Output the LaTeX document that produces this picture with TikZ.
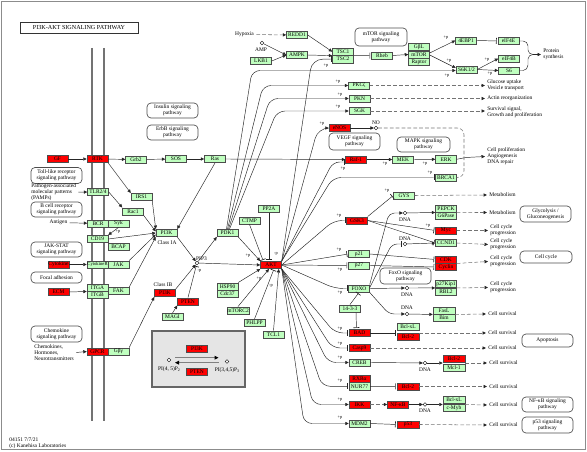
\documentclass[tikz,border=0pt]{standalone}
\usepackage{fontspec}
\setmainfont{Liberation Serif}
\usetikzlibrary{arrows.meta,calc}
\definecolor{kgreen}{HTML}{BFFFBF}
\definecolor{kred}{HTML}{FF0000}
\newcommand\kf{\fontsize{4.1}{4.6}\selectfont}
\newcommand\kfs{\fontsize{3.5}{4}\selectfont}
\newcommand\kp{\fontsize{3.3}{3.6}\selectfont}
\newcommand\ksub[1]{\raisebox{-0.6pt}{\fontsize{3}{3}\selectfont #1}}
\tikzset{
 gb/.style={draw=black!70, fill=kgreen, minimum width=15.75pt, minimum height=5.6pt, inner sep=0pt, font=\kf, line width=0.35pt},
 rb/.style={gb, fill=kred},
 pw/.style={draw=black!70, rounded corners=3pt, line width=0.5pt, font=\kf, align=center, inner sep=0pt},
 tx/.style={font=\kf, inner sep=0pt, outer sep=1.8pt, align=left},
 pl/.style={font=\kp, inner sep=0pt},
 dn/.style={circle, draw=black, fill=white, line width=0.35pt, inner sep=0pt, minimum size=2.8pt},
 ln/.style={line width=0.35pt, draw=black!85},
 act/.style={ln, -{Triangle[length=2.6pt,width=2.4pt]}},
 inh/.style={ln, -{Bar[width=4.5pt,line width=0.5pt]}, shorten >=0.8pt},
 dact/.style={line width=0.4pt, draw=black!55, dash pattern=on 2.8pt off 1.6pt, -{Triangle[length=2.6pt,width=2.4pt,color=black!85]}},
 dsh/.style={line width=0.4pt, draw=black!55, dash pattern=on 2.8pt off 1.6pt},
 gact/.style={draw=black!50, line width=0.9pt, -{Triangle[length=3pt,width=2.8pt,color=black]}},
}
\begin{document}
\begin{tikzpicture}[x=0.75pt,y=-0.75pt]
\useasboundingbox (0,0) rectangle (587,452);
\draw[black!45, line width=0.6pt] (1,1) rectangle (585,449);
% membrane
\draw[black!55, line width=1.4pt] (92,48) -- (92,421);
\draw[black!55, line width=1.4pt] (104,48) -- (104,421);

\node[draw=black!80, line width=0.5pt, minimum width=88.5pt, minimum height=8.25pt, inner sep=0pt, font=\fontsize{4.6}{5}\selectfont] (title) at (79,27.5) {PI3K-AKT SIGNALING PATHWAY};

% pathway boxes
\node[pw, minimum width=38.25pt, minimum height=11.25pt] (inspw) at (172.5,110.5) {Insulin signaling\\pathway};
\node[pw, minimum width=38.25pt, minimum height=11.25pt] (erbbpw) at (172.5,132.5) {ErbB signaling\\pathway};
\node[pw, minimum width=39pt, minimum height=13.5pt] (mtorpw) at (381,37) {mTOR signaling\\pathway};
\node[pw, minimum width=38.25pt, minimum height=12.75pt] (vegfpw) at (354.5,141.5) {VEGF signaling\\pathway};
\node[pw, minimum width=39.75pt, minimum height=11.25pt] (mapkpw) at (423.5,144.5) {MAPK signaling\\pathway};
\node[pw, minimum width=38.25pt, minimum height=12pt] (tollpw) at (56.5,175.5) {Toll-like receptor\\signaling pathway};
\node[pw, minimum width=38.25pt, minimum height=11.25pt] (bcrpw) at (56.5,209.5) {B cell receptor\\signaling pathway};
\node[pw, minimum width=38.25pt, minimum height=11.25pt] (jakpw) at (56.5,249.5) {JAK-STAT\\signaling pathway};
\node[pw, minimum width=38.25pt, minimum height=8.25pt] (focpw) at (56.5,277.5) {Focal adhesion};
\node[pw, minimum width=38.25pt, minimum height=12pt] (chempw) at (56.5,334) {Chemokine\\signaling pathway};
\node[pw, minimum width=38.25pt, minimum height=12pt] (foxopw) at (405.5,276) {FoxO signaling\\pathway};
\node[pw, minimum width=38.25pt, minimum height=12pt] (glycopw) at (545.5,214) {Glycolysis /\\Gluconeogenesis};
\node[pw, minimum width=39pt, minimum height=9pt] (ccpw) at (546,257) {Cell cycle};
\node[pw, minimum width=38.25pt, minimum height=9.75pt] (apopw) at (547.5,340.5) {Apoptosis};
\node[pw, minimum width=38.25pt, minimum height=11.25pt] (nfkbpw) at (547.5,404.5) {NF-κB signaling\\pathway};
\node[pw, minimum width=38.25pt, minimum height=12pt] (p53pw) at (547.5,425) {p53 signaling\\pathway};

% top part
\node[tx] (hyp) at (244.5,34.5) {Hypoxia};
\node[dn] (ampc) at (262,43) {};
\node[tx] (ampt) at (261,49.5) {AMP};
\node[gb] (REDD1) at (297,35) {REDD1};
\node[gb] (AMPK) at (297,55) {AMPK};
\node[gb] (LKB1) at (261,61) {LKB1};
\node[gb] (TSC1) at (343,51.7) {TSC1};
\node[gb] (TSC2) at (343,59.2) {TSC2};
\node[gb] (Rheb) at (382,55.5) {Rheb};
\node[gb] (GbL) at (419,47) {GβL};
\node[gb] (mTOR) at (419,54.5) {mTOR};
\node[gb] (Raptor) at (419,62) {Raptor};
\node[gb] (EBP) at (466,40.5) {4EBP1};
\node[gb] (eIF4E) at (508.5,41) {eIF4E};
\node[gb] (eIF4B) at (509,58.5) {eIF4B};
\node[gb] (S6K) at (466.5,69.5) {S6K1/2};
\node[gb] (S6) at (509,70.5) {S6};
\node[tx, anchor=west] (psyn) at (541,54.5) {Protein\\synthesis};
\node[gb] (PKCz) at (359,85.5) {PKCζ};
\node[gb] (PKN) at (359.5,98.5) {PKN};
\node[gb] (SGK) at (359.5,111) {SGK};
\node[tx, anchor=west] (o1) at (485,85.5) {Glucose uptake\\Vesicle transport};
\node[tx, anchor=west] (o2) at (485,98.5) {Actin reorganization};
\node[tx, anchor=west] (o3) at (485,112.5) {Survival signal,\\Growth and proliferation};
\node[rb] (eNOS) at (339.5,128) {eNOS};
\node[dn] (noc) at (376,128) {};
\node[tx] (not) at (376,122.5) {NO};
\node[rb] (Raf1) at (356,159.5) {Raf-1};
\node[gb] (MEK) at (403,159.5) {MEK};
\node[gb] (ERK) at (446,159.3) {ERK};
\node[gb] (BRCA1) at (446,177.5) {BRCA1};
\node[tx, anchor=west] (o4) at (485,156.5) {Cell proliferation\\Angiogenesis\\DNA repair};
\node[gb] (GYS) at (404,195.5) {GYS};
\node[tx, anchor=west] (o5) at (487,195) {Metabolism};
\node[rb] (GSK3) at (357,220.5) {GSK3};
\node[dn] (dna1) at (405,213) {};
\node[tx] (dna1t) at (405,219.5) {DNA};
\node[gb] (PEPCK) at (446,208.5) {PEPCK};
\node[gb] (G6P) at (446,216) {G6Pase};
\node[tx, anchor=west] (o6) at (487,212.5) {Metabolism};
\node[rb] (Myc) at (446,230.5) {Myc};
\node[dn] (dna2) at (405,244) {};
\node[tx] (dna2t) at (405,238.5) {DNA};
\node[gb] (CCND1) at (446,243) {CCND1};
\node[rb] (CDK) at (446,259.5) {CDK};
\node[rb] (Cyclin) at (446,267) {Cyclin};
\node[gb] (p21) at (359,254) {p21};
\node[gb] (p27) at (359,265.5) {p27};
\node[tx, anchor=west] (o7) at (488,230.5) {Cell cycle\\progression};
\node[tx, anchor=west] (o8) at (488,244.5) {Cell cycle\\progression};
\node[tx, anchor=west] (o9) at (488,261.5) {Cell cycle\\progression};
\node[tx, anchor=west] (o10) at (488,287.5) {Cell cycle\\progression};
\node[gb] (FOXO) at (359,288.5) {FOXO};
\node[dn] (dna3) at (407,288) {};
\node[tx] (dna3t) at (407,294.5) {DNA};
\node[gb] (p27K) at (446,284) {p27Kip1};
\node[gb] (RBL2) at (446,291.5) {RBL2};
\node[gb] (s1433) at (350,308.5) {14-3-3};
\node[dn] (dna4) at (407,314) {};
\node[tx] (dna4t) at (407,307.5) {DNA};
\node[gb, minimum width=16.5pt] (FasL) at (444,310.5) {FasL};
\node[gb, minimum width=16.5pt] (Bim) at (444,318) {Bim};
\node[tx, anchor=west] (o11) at (486,314) {Cell survival};
\node[rb] (BAD) at (359.5,333) {BAD};
\node[gb, minimum width=16.5pt] (BclxL) at (408,327) {Bcl-xL};
\node[rb, minimum width=16.5pt] (Bcl2a) at (408,337) {Bcl-2};
\node[tx, anchor=west] (o12) at (486,333) {Cell survival};
\node[rb] (Casp9) at (359.5,348) {Casp9};
\node[tx, anchor=west] (o13) at (486,348) {Cell survival};
\node[gb] (CREB) at (359.5,362.5) {CREB};
\node[dn] (dna5) at (425,363) {};
\node[tx] (dna5t) at (425,369.5) {DNA};
\node[rb, minimum width=16.5pt] (Bcl2b) at (454,358.5) {Bcl-2};
\node[gb, minimum width=16.5pt] (Mcl1) at (454,367.5) {Mcl-1};
\node[tx, anchor=west] (o14) at (487,363) {Cell survival};
\node[rb] (RXRa) at (359.5,378.5) {RXRα};
\node[gb] (NUR77) at (359.5,386.3) {NUR77};
\node[rb, minimum width=16.5pt] (Bcl2c) at (408,386.5) {Bcl-2};
\node[tx, anchor=west] (o15) at (487,386.5) {Cell survival};
\node[rb] (IKK) at (359.5,404.5) {IKK};
\node[rb] (NFkB) at (398,404.5) {NF-κB};
\node[dn] (dna6) at (425,404.5) {};
\node[tx] (dna6t) at (425,410.5) {DNA};
\node[gb, minimum width=16.5pt] (BclxL2) at (454,399.5) {Bcl-xL};
\node[gb, minimum width=16.5pt] (cMyb) at (454,408) {c-Myb};
\node[tx, anchor=west] (o16) at (487,405) {Cell survival};
\node[gb] (MDM2) at (359.5,423.5) {MDM2};
\node[rb, minimum width=16.5pt] (p53) at (408,424.5) {p53};
\node[tx, anchor=west] (o17) at (487,425) {Cell survival};

% left part
\node[rb] (GF) at (57.5,159) {GF};
\node[rb] (RTK) at (97.5,159) {RTK};
\node[gb] (Grb2) at (136,159.5) {Grb2};
\node[gb] (SOS) at (176,159) {SOS};
\node[gb] (Ras) at (215,159) {Ras};
\node[tx, anchor=west] (pamp) at (29,192.2) {Pathogen-associated\\molecular patterns\\(PAMPs)};
\node[gb] (TLR) at (98,192) {TLR2/4};
\node[gb] (IRS1) at (141.5,197) {IRS1};
\node[gb] (Rac1) at (133,211.5) {Rac1};
\node[tx] (antig) at (58.5,222.5) {Antigen};
\node[gb] (BCR) at (98,223.5) {BCR};
\node[gb] (Syk) at (118.5,223.5) {Syk};
\node[gb] (CD19) at (97.5,239) {CD19};
\node[gb] (BCAP) at (118.5,246.5) {BCAP};
\node[rb] (Cytok) at (58.5,264.5) {Cytokine};
\node[gb, font=\kfs] (CytR) at (97.5,264.5) {CytokineR};
\node[gb] (JAK) at (118.5,264.5) {JAK};
\node[rb] (ECM) at (58.5,292) {ECM};
\node[gb] (ITGA) at (97.5,287.5) {ITGA};
\node[gb] (ITGB) at (97.5,295) {ITGB};
\node[gb] (FAK) at (118.5,291) {FAK};
\node[tx, anchor=west] (chemt) at (32,352.5) {Chemokines,\\Hormones,\\Neurotransmitters};
\node[rb] (GPCR) at (97.5,351.5) {GPCR};
\node[gb] (Gbg) at (118.5,351.5) {Gβγ};
\node[tx, anchor=west] (foot) at (7,443) {04151 7/7/21\\(c) Kanehisa Laboratories};

% centre
\node[gb] (PI3K) at (166.5,233) {PI3K};
\node[tx] (cIA) at (167,242.5) {Class IA};
\node[dn] (pip3) at (197,263) {};
\node[tx] (pip3t) at (201.5,258.5) {PIP3};
\node[gb] (PDK1) at (227.5,233) {PDK1};
\node[gb] (CTMP) at (249.5,220.5) {CTMP};
\node[gb] (PP2A) at (269,209) {PP2A};
\node[rb] (AKT) at (271,265) {AKT};
\node[tx] (cIB) at (163,285) {Class IB};
\node[rb] (PI3Kb) at (165,293) {PI3K};
\node[rb] (PTEN) at (188,301.5) {PTEN};
\node[gb] (MAGI) at (172.5,317) {MAGI};
\node[gb] (HSP90) at (227.5,286.5) {HSP90};
\node[gb] (Cdc37) at (227.5,294) {Cdc37};
\node[gb] (mTORC2) at (238,310.5) {mTORC2};
\node[gb] (PHLPP) at (254.5,323) {PHLPP};
\node[gb] (TCL1) at (273.5,334.5) {TCL1};

% grey inset
\node[draw=black!60, fill=black!10, line width=1pt, minimum width=69.75pt, minimum height=42pt] (gbox) at (198.5,359) {};
\node[rb] (gPI3K) at (197,348.5) {PI3K};
\node[rb] (gPTEN) at (197,372) {PTEN};
\node[dn] (gc1) at (169,360) {};
\node[dn] (gc2) at (227,361.5) {};
\node[tx] (gt1) at (169,369.5) {PI(4, 5)P\ksub{2}};
\node[tx] (gt2) at (227,370) {PI(3,4,5)P\ksub{3}};
\coordinate (ga1) at (175,357.7);
\coordinate (ga2) at (218.5,357.7);
\coordinate (gb1) at (218.5,362.7);
\coordinate (gb2) at (175,362.7);
\draw[gact] (ga1) -- (ga2);
\draw[gact] (gb1) -- (gb2);

% +p labels
\foreach \x/\y/\t in {326/66/+p, 446/37.5/+p, 449/61/+p, 447/75.5/+p, 487/59.5/+p, 490/73.5/+p, 338/81.5/+p, 340/94.5/+p, 338/107/+p, 322/123.5/+p, 343/168.5/+p, 385/164/+p, 425/164/+p, 430/173/+p, 387/191/+p, 339/215.5/+p, 428/226/+p, 339/249.5/+p, 340/269.5/+p, 340/293/+p, 340/329/+p, 340/343.5/+p, 340/357.5/+p, 340/380.5/+p, 340/399.5/+p, 340/418/+p, 118/232/+p, 248/256/+p, 276/254/-p, 199.5/271/-p, 259/279/+p, 271/285.5/-p}
  \node[pl] at (\x,\y) {\t};

% ---- connectors top
\draw[dact] (hyp) -- (REDD1);
\draw[act] (ampc) -- (AMPK.west);
\draw[act] (LKB1.east) -- (AMPK.west);
\draw[act] (REDD1.east) -- (TSC1.west);
\draw[act] (AMPK.east) -- (TSC1.south west);
\draw[inh] (TSC1.south east) -- (Rheb.west);
\draw[act] (Rheb.east) -- (mTOR.west);
\draw[act] ($(mTOR.east)+(0,-1.5)$) -- (EBP.west);
\draw[act] ($(mTOR.east)+(0,0.5)$) -- ($(S6K.west)+(0,-1.5)$);
\draw[inh] (EBP.east) -- (eIF4E.west);
\draw[act] (S6K.east) -- (eIF4B.west);
\draw[act] (S6K.east) -- (S6.west);
\coordinate (psb) at (533,54.5);
\draw[ln] (eIF4E.east) -- (523,41) to[out=0,in=90] (528,46) -- (528,50) to[out=-90,in=180] (psb);
\draw[ln] (S6.east) -- (523,70.5) to[out=0,in=-90] (528,65) -- (528,59) to[out=90,in=180] (psb);
\draw[act] (psb) -- (psyn.west);

% PDK1 upward
\draw[act, rounded corners=6pt] ($(PDK1.north)+(-1,0)$) -- (252,70.5) -- ($(S6K.west)+(0,1)$);
\draw[act, rounded corners=6pt] (PDK1.north) -- (263,85.5) -- (PKCz.west);
\draw[act, rounded corners=6pt] ($(PDK1.north)+(1,0)$) -- (270,98.5) -- (PKN.west);
\draw[act, rounded corners=6pt] ($(PDK1.north)+(2,0)$) -- (277,111) -- (SGK.west);
\draw[dact] (PKCz.east) -- (o1.west);
\draw[dact] (PKN.east) -- (o2.west);
\draw[dact] (SGK.east) -- (o3.west |- SGK.east);

% AKT fan
\draw[inh, rounded corners=8pt] (AKT.north east) -- (312,59.2) -- (TSC2.west);
\draw[act, rounded corners=8pt] (AKT.north east) -- (318,128) -- (eNOS.west);
\draw[inh, rounded corners=5pt] (AKT.north east) -- (333,162) -- ($(Raf1.west)+(0,2.5)$);
\draw[inh, rounded corners=6pt] (AKT.north east) -- (333,177.5) -- (BRCA1.west);
\draw[inh, rounded corners=6pt] (AKT.east) -- (334,220.5) -- (GSK3.west);
\draw[inh] (AKT.east) -- (p21.west);
\draw[inh] (AKT.east) -- (p27.west);
\draw[inh, rounded corners=6pt] (AKT.east) -- (335,288.5) -- (FOXO.west);
\draw[inh, rounded corners=6pt] (AKT.south east) -- (335,333) -- (BAD.west);
\draw[inh, rounded corners=6pt] (AKT.south east) -- (332,348) -- (Casp9.west);
\draw[act, rounded corners=6pt] (AKT.south east) -- (328,362.5) -- (CREB.west);
\draw[inh, rounded corners=6pt] (AKT.south east) -- (322,386.3) -- (NUR77.west);
\draw[act, rounded corners=6pt] (AKT.south east) -- (313,404.5) -- (IKK.west);
\draw[act, rounded corners=6pt] (AKT.south east) -- (304,423.5) -- (MDM2.west);

% right side
\draw[act] (eNOS.east) -- (noc);
\draw[dsh, rounded corners=5pt] (noc) -- (464,128) -- (464,177.5) -- (BRCA1.east);
\coordinate (brk) at (466,157.5);
\draw[ln] (ERK.east) -- (brk);
\draw[act] (brk) -- (o4.west);
\draw[act] (Ras.east) -- (Raf1.west);
\draw[act] (Raf1.east) -- (MEK.west);
\draw[act] (MEK.east) -- (ERK.west);
\draw[inh] (GSK3.north east) -- (GYS.west);
\draw[dact] (GYS.east) -- (o5.west);
\draw[inh] (GSK3.east) -- (Myc.west);
\draw[inh] (GSK3.east) -- (CCND1.west);
\draw[act, rounded corners=4pt] (FOXO.north east) -- (389,213) -- (dna1);
\draw[inh, rounded corners=4pt] ($(FOXO.east)+(0,-1)$) -- (392,244) -- (dna2);
\draw[act] (FOXO.east) -- (dna3);
\draw[act, rounded corners=4pt] (FOXO.south east) -- (389,314) -- (dna4);
\draw[act] (dna1) -- (PEPCK.south west);
\draw[dact] (PEPCK.south east) -- (o6.west);
\draw[act] (dna2) -- (CCND1.west);
\draw[act] (dna3) -- (p27K.south west);
\draw[dact] (p27K.south east) -- (o10.west);
\draw[act] (dna4) -- (FasL.south west);
\draw[dact] (FasL.south east) -- (o11.west);
\draw[dact] (Myc.east) -- (o7.west);
\draw[dact] (CCND1.east) -- (o8.west);
\draw[dact] (CDK.south east) -- (o9.west);
\draw[inh] (p21.east) -- (CDK.west);
\draw[inh] (p27.east) -- (Cyclin.west);
\draw[inh] (s1433.north) -- (FOXO.south);
\draw[inh] ($(s1433.south)+(6,0)$) -- ($(BAD.north)+(-3,0)$);
\draw[inh] (BAD.east) -- (BAD.east -| BclxL.west);
\draw[dact] (BAD.east -| Bcl2a.east) -- (o12.west);
\draw[dact] (Casp9.east) -- (o13.west);
\draw[act] (CREB.east) -- (dna5);
\draw[act] (dna5) -- (dna5 -| Bcl2b.west);
\draw[dact] (dna5 -| Bcl2b.east) -- (o14.west);
\draw[inh] (NUR77.east) -- (Bcl2c.west);
\draw[dact] (Bcl2c.east) -- (o15.west);
\draw[dact] (IKK.east) -- (NFkB.west);
\draw[act] (NFkB.east) -- (dna6);
\draw[act] (dna6) -- (dna6 -| BclxL2.west);
\draw[dact] (dna6 -| cMyb.east) -- (o16.west);
\draw[inh] (MDM2.east) -- (p53.west);
\draw[dact] (p53.east) -- (o17.west);

% left connectors
\draw[act] (GF) -- (RTK);
\draw[act] (RTK) -- (Grb2);
\draw[act] (Grb2) -- (SOS);
\draw[act] (SOS) -- (Ras);
\draw[act] (RTK.south east) -- (IRS1.north west);
\draw[act] (pamp.east) -- (TLR.west);
\draw[act] (TLR.east) -- (Rac1.north west);
\draw[act] (antig) -- (BCR);
\draw[act] (Syk.south) -- (CD19.north east);
\draw[act] (Cytok) -- (CytR);
\draw[act] (ECM.east) -- (ITGA.south west);
\draw[act] (chemt.east) -- (GPCR.west);
\draw[act] (IRS1.south east) -- (PI3K.north west);
\draw[act] (Rac1.south east) -- ($(PI3K.west)+(0,-1.5)$);
\draw[act] (CD19.east) -- (PI3K.west);
\draw[act] (JAK.north east) -- ($(PI3K.west)+(0,1.5)$);
\draw[act] (FAK.north east) -- (PI3K.south west);
\draw[act] (Gbg.north east) -- (PI3Kb.south west);
\draw[act] (Ras.south) -- (PI3K.north east);
\draw[act] (PI3K.south east) -- (pip3);
\draw[act] (PI3Kb.north east) -- (pip3);
\draw[inh] (PTEN.north) -- (pip3);
\draw[act] (MAGI.north) -- (PTEN.south west);
\draw[act] (pip3) -- (PDK1.south west);
\draw[act] (pip3) -- (AKT.west);
\draw[act] (PDK1.south east) -- (AKT.north west);
\draw[inh] (CTMP.south) -- ($(AKT.north west)+(3,0)$);
\draw[inh] (PP2A.south) -- (PP2A.south |- AKT.north);
\draw[act] (HSP90.north east) -- (AKT.south west);
\draw[act] (mTORC2.north) -- ($(AKT.south)+(-2,0)$);
\draw[inh] (PHLPP.north) -- ($(AKT.south)+(3,0)$);
\draw[act] (TCL1.north) -- ($(AKT.south east)+(-3,0)$);
\end{tikzpicture}
\end{document}
